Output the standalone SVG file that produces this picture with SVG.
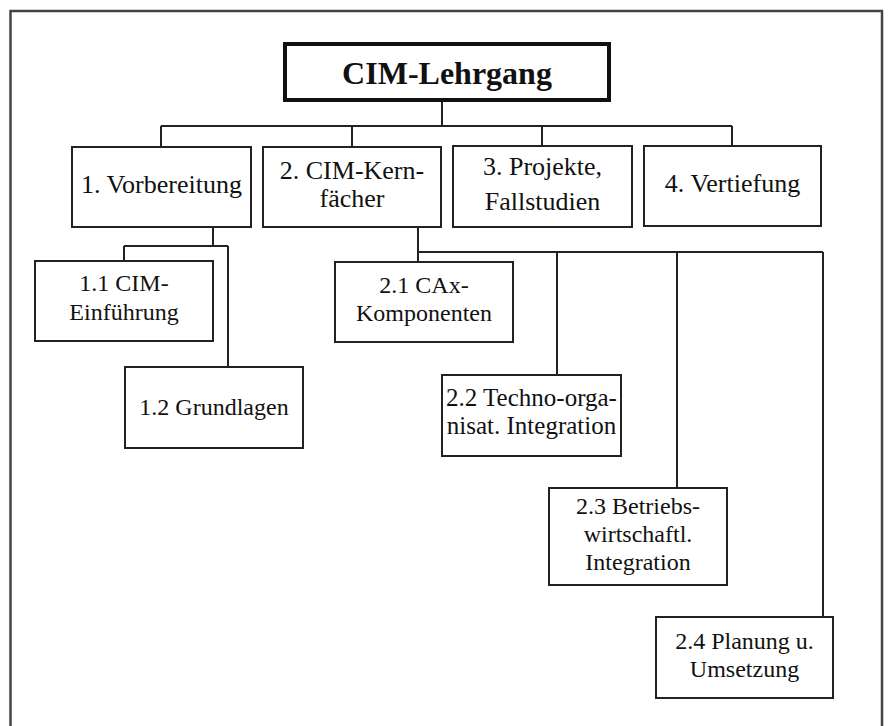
<svg xmlns="http://www.w3.org/2000/svg" width="889" height="726" viewBox="0 0 889 726" font-family="'Liberation Serif', 'Times New Roman', Times, 'DejaVu Serif', serif">
<style>
.box{fill:#fff;stroke:#222;stroke-width:2}
.title{fill:#fff;stroke:#111;stroke-width:4}
.ln{fill:none;stroke:#222;stroke-width:2}
.frame{fill:none;stroke:#444;stroke-width:2.5}
.t{font-family:'Liberation Serif','Times New Roman',Times,'DejaVu Serif',serif;font-size:26px;fill:#111;text-anchor:middle}
.s{font-size:24px}
.tt{font-size:32px;font-weight:bold}
</style>
<rect width="889" height="726" fill="#fff"/>
<path class="frame" d="M10.5,726 V11 H882 V726"/>
<g id="connectors">
<path class="ln" d="M442,100 V126 M161,126 H732 M161,126 V147 M352,126 V147 M542,126 V146 M732,126 V146"/>
<path class="ln" d="M213,227 V246 M124,246 H228 M124,246 V261 M228,246 V367"/>
<path class="ln" d="M418,227 V262 M418,252 H823 M557,252 V375 M677,252 V488 M823,252 V617"/>
</g>
<g id="n0"><rect class="title" x="285" y="44" width="324" height="56"/><text class="t tt" x="447" y="84">CIM-Lehrgang</text></g>
<g id="n1"><rect class="box" x="72" y="147" width="179" height="80"/><text class="t" x="161.5" y="193">1. Vorbereitung</text></g>
<g id="n2"><rect class="box" x="263" y="147" width="178" height="80"/><text class="t" x="352" y="179">2. CIM-Kern-</text><text class="t" x="352" y="207">fächer</text></g>
<g id="n3"><rect class="box" x="453" y="146" width="179" height="81"/><text class="t" x="542.5" y="175">3. Projekte,</text><text class="t" x="542.5" y="210">Fallstudien</text></g>
<g id="n4"><rect class="box" x="644" y="146" width="177" height="80"/><text class="t" x="732.5" y="192">4. Vertiefung</text></g>
<g id="n11"><rect class="box" x="35" y="261" width="178" height="80"/><text class="t s" x="124" y="291">1.1 CIM-</text><text class="t s" x="124" y="320">Einführung</text></g>
<g id="n12"><rect class="box" x="125" y="367" width="178" height="81"/><text class="t s" x="214" y="415">1.2 Grundlagen</text></g>
<g id="n21"><rect class="box" x="335" y="262" width="178" height="80"/><text class="t s" x="424" y="293">2.1 CAx-</text><text class="t s" x="424" y="321">Komponenten</text></g>
<g id="n22"><rect class="box" x="442" y="375" width="179" height="81"/><text class="t" x="531.5" y="406" style="font-size:25px">2.2 Techno-orga-</text><text class="t" x="531.5" y="434" style="font-size:25px">nisat. Integration</text></g>
<g id="n23"><rect class="box" x="549" y="488" width="178" height="97"/><text class="t s" x="638" y="514">2.3 Betriebs-</text><text class="t s" x="638" y="542">wirtschaftl.</text><text class="t s" x="638" y="570">Integration</text></g>
<g id="n24"><rect class="box" x="656" y="617" width="177" height="81"/><text class="t s" x="744.5" y="649">2.4 Planung u.</text><text class="t s" x="744.5" y="677">Umsetzung</text></g>
</svg>
